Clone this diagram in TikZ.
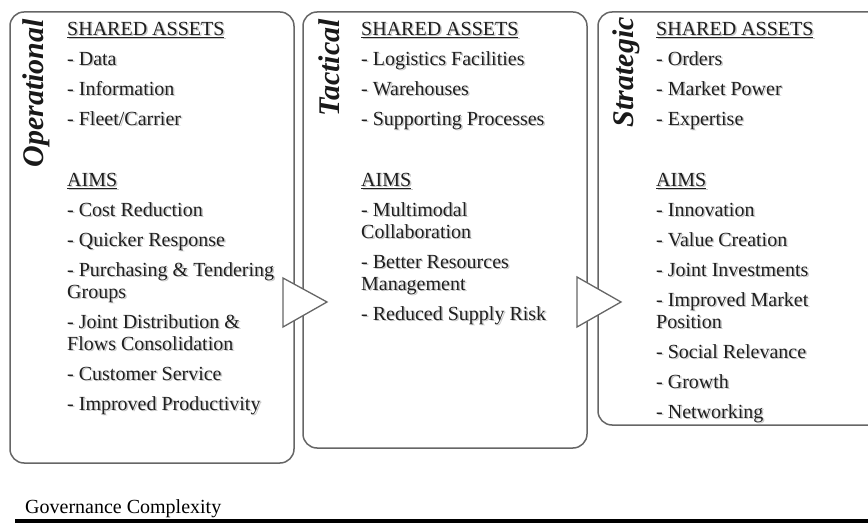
\documentclass[tikz,border=0pt]{standalone}
\usepackage{fontspec}
\setmainfont{Liberation Serif}

\tikzset{
  panel/.style={draw=black!60, line width=1.5pt, rounded corners=14pt},
  pointer/.style={draw=black!60, line width=1.3pt, fill=white},
  level/.style={rotate=90, anchor=base east, inner sep=0pt, text=black!90,
    font=\fontsize{30}{30}\selectfont\bfseries\itshape},
  items/.style={anchor=north west, align=left, inner sep=0pt, text=black!88,
    font=\fontsize{20}{22}\selectfont},
}
% soft grey copy below the text, then the text itself
\newcommand{\shadowed}[3]{%
  \node[items, text=black!22, xshift=1.5pt, yshift=-1.5pt] at (#2) {#3};
  \node[items] (#1) at (#2) {#3};}

\begin{document}
\begin{tikzpicture}[x=1pt, y=-1pt]
\useasboundingbox (0,0) rectangle (868,529);
\fill[white] (0,0) rectangle (868,529);

% the three levels
\draw[panel] (10,12) rectangle (294,463);
\draw[panel] (303,12) rectangle (587,448);
\draw[panel] (598,12) rectangle (890,425);

\node[level] (op) at (43,19) {Operational};
\node[level] (tac) at (339,19) {Tactical};
\node[level] (str) at (633,17) {Strategic};

\shadowed{opitems}{67,22}{\underline{SHARED ASSETS}\\[8pt]
- Data\\[8pt]
- Information\\[8pt]
- Fleet/Carrier\\[39pt]
\underline{AIMS}\\[8pt]
- Cost Reduction\\[8pt]
- Quicker Response\\[8pt]
- Purchasing \& Tendering\\
Groups\\[8pt]
- Joint Distribution \&\\
Flows Consolidation\\[8pt]
- Customer Service\\[8pt]
- Improved Productivity}

\shadowed{tacitems}{361,22}{\underline{SHARED ASSETS}\\[8pt]
- Logistics Facilities\\[8pt]
- Warehouses\\[8pt]
- Supporting Processes\\[39pt]
\underline{AIMS}\\[8pt]
- Multimodal\\
Collaboration\\[8pt]
- Better Resources\\
Management\\[8pt]
- Reduced Supply Risk}

\shadowed{stritems}{656,22}{\underline{SHARED ASSETS}\\[8pt]
- Orders\\[8pt]
- Market Power\\[8pt]
- Expertise\\[39pt]
\underline{AIMS}\\[8pt]
- Innovation\\[8pt]
- Value Creation\\[8pt]
- Joint Investments\\[8pt]
- Improved Market\\
Position\\[8pt]
- Social Relevance\\[8pt]
- Growth\\[8pt]
- Networking}

% hollow pointers between the levels
\draw[pointer] (283,278) -- (327,302) -- (283,327) -- cycle;
\draw[pointer] (577,277) -- (621,302) -- (577,327) -- cycle;

% axis at the bottom
\node[anchor=base west, inner sep=0pt, font=\fontsize{20}{22}\selectfont] (gov) at (25,513) {Governance Complexity};
\coordinate (axl) at (15,521);
\coordinate (axr) at (880,521);
\draw[line width=3.5pt] (axl) -- (axr);
\end{tikzpicture}
\end{document}
